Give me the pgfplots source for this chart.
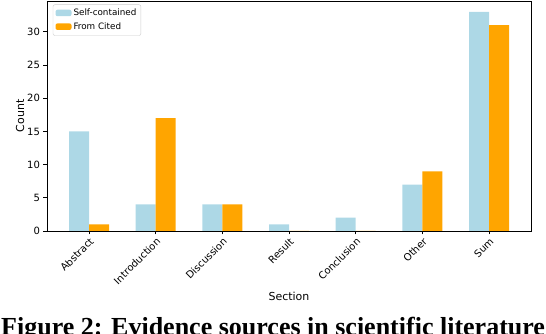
\documentclass[border=0pt]{standalone}
\usepackage{pgfplots}
\pgfplotsset{compat=1.18}
\usepackage{fontspec}
\setmainfont{DejaVu Sans}
\newfontfamily\capfont{Liberation Serif}
\definecolor{selfc}{HTML}{ADD8E6}
\definecolor{cited}{HTML}{FFA500}

\begin{document}
\begin{tikzpicture}
\begin{axis}[
  at={(47pt,103pt)}, anchor=south west,
  scale only axis,
  width=484pt, height=230pt,
  xmin=-0.63, xmax=6.63,
  ymin=0, ymax=34.65,
  xtick={0,...,6},
  xticklabels={Abstract,Introduction,Discussion,Result,Conclusion,Other,Sum},
  xticklabel style={rotate=45, anchor=north east, font=\fontsize{10}{11}\selectfont, inner sep=1.5pt},
  ytick={0,5,...,30},
  yticklabel style={font=\fontsize{10}{11}\selectfont},
  /pgf/number format/assume math mode=true,
  tick align=outside,
  tick pos=left,
  major tick length=3.5pt,
  every tick/.style={black, line width=0.8pt},
  axis line style={line width=0.8pt},
  xlabel={Section},
  ylabel={Count},
  label style={font=\fontsize{11}{12}\selectfont},
  xlabel style={yshift=-1pt},
  ylabel style={yshift=-4pt},
  legend style={at={(0.012,0.985)}, anchor=north west, font=\fontsize{8.8}{10}\selectfont,
    draw=black!20, rounded corners=2pt, row sep=1.5pt, inner sep=2.5pt},
  legend cell align=left,
  legend image code/.code={\fill[#1] (0pt,-3pt) rectangle (16pt,3.5pt);},
]
\addplot[draw=none, fill=selfc, ybar, bar width=0.3, bar shift=-0.15] coordinates {
  (0,15)(1,4)(2,4)(3,1)(4,2)(5,7)(6,33)};
\addlegendentry{Self-contained}
\addplot[draw=none, fill=cited, ybar, bar width=0.3, bar shift=0.15] coordinates {
  (0,1)(1,17)(2,4)(3,0)(4,0)(5,9)(6,31)};
\addlegendentry{From Cited}
\end{axis}
\node[anchor=base west, inner sep=0pt, font=\capfont\bfseries\fontsize{26}{27}\selectfont] at (1pt,-2pt) {Figure 2: Evidence sources in scientific literature};
\pgfresetboundingbox
\useasboundingbox (0pt,0pt) rectangle (546pt,334pt);
\end{tikzpicture}
\end{document}
